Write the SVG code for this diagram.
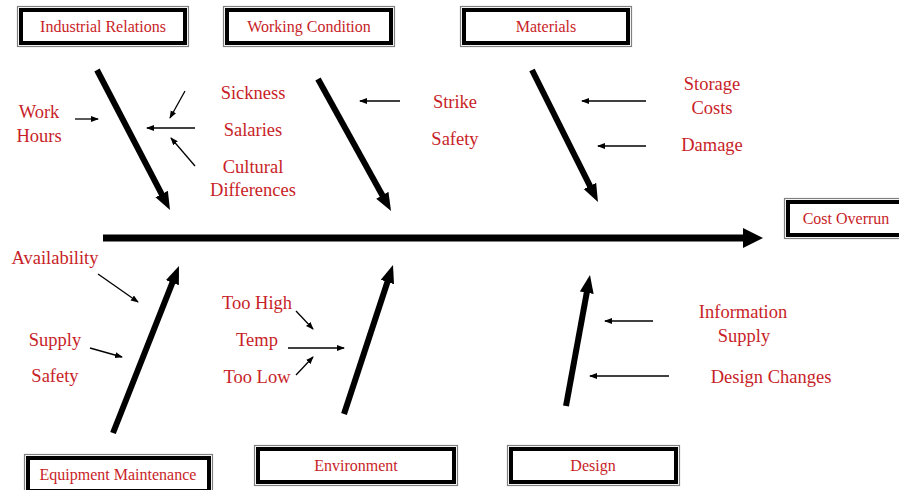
<svg xmlns="http://www.w3.org/2000/svg" width="899" height="490" viewBox="0 0 899 490">
<defs>
<marker id="big" markerUnits="userSpaceOnUse" markerWidth="22" markerHeight="22" refX="2" refY="10" orient="auto"><path d="M0,0 L20,10 L0,20 z" fill="#000"/></marker>
<marker id="bone" markerUnits="userSpaceOnUse" markerWidth="20" markerHeight="16" refX="2" refY="7" orient="auto"><path d="M0,0 L18,7 L0,14 z" fill="#000"/></marker>
<marker id="small" markerUnits="userSpaceOnUse" markerWidth="10" markerHeight="8" refX="7" refY="3" orient="auto"><path d="M0,0 L8,3 L0,6 z" fill="#000"/></marker>
</defs>
<style>
.outer{fill:#fff;stroke:#808080;stroke-width:1.2}
.inner{fill:#fff;stroke:#000;stroke-width:4}
.title{font-family:"Liberation Serif","Times New Roman",serif;font-size:16px;fill:#c81e28;text-anchor:middle}
.lbl{font-family:"Liberation Serif","Times New Roman",serif;font-size:18.5px;fill:#c81e28;text-anchor:middle}
.spine{stroke:#000;stroke-width:7;fill:none;marker-end:url(#big)}
.b{stroke:#000;stroke-width:6;fill:none;marker-end:url(#bone)}
.s{stroke:#000;stroke-width:1.3;fill:none;marker-end:url(#small)}
</style>
<rect width="899" height="490" fill="#fff"/>

<g id="industrial-relations">
<rect class="outer" x="17.5" y="6.5" width="171" height="40"/>
<rect class="inner" x="21" y="10" width="164" height="33"/>
<text class="title" x="103" y="32">Industrial Relations</text>
</g>
<g id="working-condition">
<rect class="outer" x="223.5" y="6.5" width="171" height="40"/>
<rect class="inner" x="227" y="10" width="164" height="33"/>
<text class="title" x="309" y="32">Working Condition</text>
</g>
<g id="materials">
<rect class="outer" x="460.5" y="6.5" width="171" height="40"/>
<rect class="inner" x="464" y="10" width="164" height="33"/>
<text class="title" x="546" y="32">Materials</text>
</g>
<g id="cost-overrun">
<rect class="outer" x="784.5" y="198.5" width="120" height="40"/>
<rect class="inner" x="788" y="202" width="120" height="33"/>
<text class="title" x="846" y="224">Cost Overrun</text>
</g>
<g id="equipment-maintenance">
<rect class="outer" x="24.5" y="454.5" width="188" height="40"/>
<rect class="inner" x="28" y="458" width="181" height="33"/>
<text class="title" x="118" y="480">Equipment Maintenance</text>
</g>
<g id="environment">
<rect class="outer" x="254.5" y="445.5" width="203" height="40"/>
<rect class="inner" x="258" y="449" width="196" height="33"/>
<text class="title" x="356" y="471">Environment</text>
</g>
<g id="design">
<rect class="outer" x="507.5" y="445.5" width="172" height="40"/>
<rect class="inner" x="511" y="449" width="165" height="33"/>
<text class="title" x="593" y="471">Design</text>
</g>

<g id="causes">
<text class="lbl" x="39" y="118">Work</text>
<text class="lbl" x="39" y="142">Hours</text>
<text class="lbl" x="253" y="99">Sickness</text>
<text class="lbl" x="253" y="136">Salaries</text>
<text class="lbl" x="253" y="173">Cultural</text>
<text class="lbl" x="253" y="196">Differences</text>
<text class="lbl" x="455" y="108">Strike</text>
<text class="lbl" x="455" y="145">Safety</text>
<text class="lbl" x="712" y="90">Storage</text>
<text class="lbl" x="712" y="114">Costs</text>
<text class="lbl" x="712" y="151">Damage</text>
<text class="lbl" x="55" y="264">Availability</text>
<text class="lbl" x="55" y="346">Supply</text>
<text class="lbl" x="55" y="382">Safety</text>
<text class="lbl" x="257" y="309">Too High</text>
<text class="lbl" x="257" y="346">Temp</text>
<text class="lbl" x="257" y="383">Too Low</text>
<text class="lbl" x="743" y="318">Information</text>
<text class="lbl" x="744" y="342">Supply</text>
<text class="lbl" x="771" y="383">Design Changes</text>
</g>

<g id="connectors">
<line class="spine" x1="103" y1="238" x2="745" y2="238"/>
<line class="b" x1="97" y1="70" x2="162.6" y2="195.8"/>
<line class="b" x1="318" y1="79" x2="383.3" y2="197"/>
<line class="b" x1="532" y1="70" x2="590.8" y2="187.7"/>
<line class="b" x1="113" y1="433" x2="173.1" y2="280.9"/>
<line class="b" x1="344" y1="414" x2="388" y2="280.2"/>
<line class="b" x1="566" y1="406" x2="587.1" y2="290.7"/>
<line class="s" x1="75" y1="119" x2="98" y2="119"/>
<line class="s" x1="185" y1="91" x2="170" y2="118"/>
<line class="s" x1="195" y1="128" x2="147" y2="128"/>
<line class="s" x1="195" y1="166" x2="171" y2="138"/>
<line class="s" x1="400" y1="101" x2="360" y2="101"/>
<line class="s" x1="646" y1="101" x2="582" y2="101"/>
<line class="s" x1="646" y1="146" x2="598" y2="146"/>
<line class="s" x1="98" y1="274" x2="138" y2="302"/>
<line class="s" x1="90" y1="348" x2="122" y2="357"/>
<line class="s" x1="296" y1="311" x2="313" y2="329"/>
<line class="s" x1="288" y1="348" x2="344" y2="348"/>
<line class="s" x1="296" y1="375" x2="313" y2="357"/>
<line class="s" x1="653" y1="321" x2="605" y2="321"/>
<line class="s" x1="669" y1="376" x2="590" y2="376"/>
</g>
</svg>
